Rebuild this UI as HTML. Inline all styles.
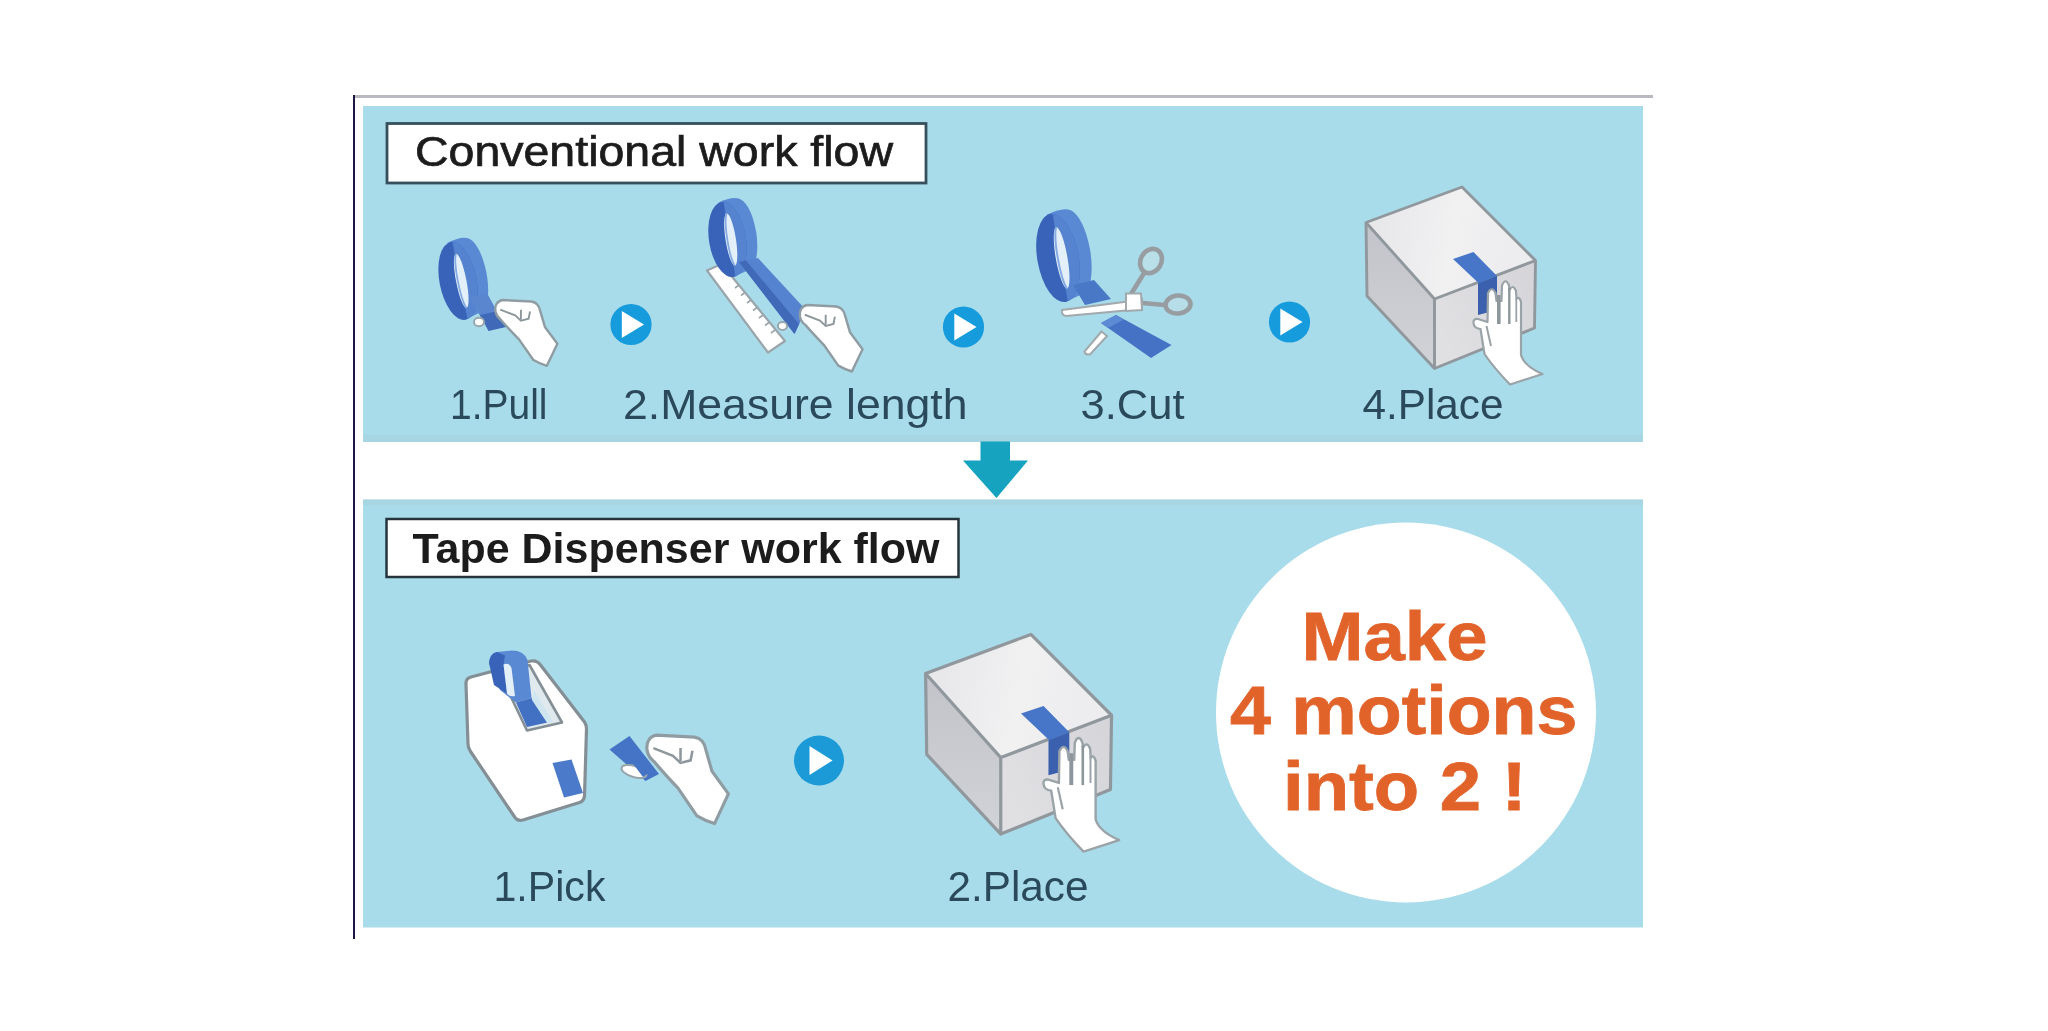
<!DOCTYPE html>
<html lang="en">
<head>
<meta charset="utf-8">
<title>Tape dispenser work flow</title>
<style>
  html, body { margin: 0; padding: 0; background: #ffffff; }
  body { width: 2048px; height: 1031px; overflow: hidden; position: relative;
         font-family: "Liberation Sans", sans-serif; }
  svg { position: absolute; left: 0; top: 0; display: block; }
  text { font-family: "Liberation Sans", sans-serif; }
  .lbl { fill: #2c4a5a; font-size: 42px; }
  .ttl { fill: #1c1c1c; font-size: 42px; }
  .org { fill: #e2642c; font-weight: bold; }
</style>
</head>
<body>
<svg width="2048" height="1031" viewBox="0 0 2048 1031">
  <defs>
    <filter id="soft" filterUnits="userSpaceOnUse" x="300" y="60" width="1420" height="920">
      <feGaussianBlur stdDeviation="0.55"/>
    </filter>

    <!-- tape roll: local coords, front-face ellipse centred at 0,0 -->
    <clipPath id="rightHalf"><rect x="2" y="-60" width="60" height="120"/></clipPath>
    <g id="roll">
      <path d="M-3 -39.5 C5 -42 14 -42.5 18 -40 C26 -35.5 29.500 -18 29.500 -3 C29.500 12 26 29 19 34 L0 39.5 Z" fill="#5a89d3"/>
      <ellipse cx="0" cy="0" rx="18.5" ry="39.5" fill="#3864b8"/>
      <ellipse cx="0" cy="0" rx="18.5" ry="39.5" fill="#5583cf" clip-path="url(#rightHalf)"/>
      <ellipse cx="3.200" cy="0.5" rx="5.200" ry="27.500" fill="#e3f0fa"/>
      <path d="M3 -27 C-1 -18 -1.500 16 3 28" fill="none" stroke="#86abe2" stroke-width="1.800"/>
    </g>
    <!-- gripping hand: local origin about top-left of fist -->
    <g id="grip">
      <path d="M0.5 11 C-0.5 5 2 0 8 -1 L38 0.5 C44 1.5 46 5 47 10 L52 27 L65 44.5 L54 67.5 Q46 65 40 61.5 L25 40 Q17 32 6 19.5 Q1.5 16 0.5 11 Z" fill="#ffffff" stroke="#8f9da3" stroke-width="2.5" stroke-linejoin="round"/>
      <path d="M5.5 9 L21 15 L27 20.5 L35 18.5 L36.5 11 M27 9 L27 19" fill="none" stroke="#8e989c" stroke-width="2"/>
    </g>

    <!-- box + tape + pressing hand, drawn in coordinates of the "4.Place" scene -->
    <g id="boxscene">
      <path d="M1366 222.500 L1434.500 299 L1434.500 368.500 L1367 296 Z" fill="url(#gLeft)"/>
      <path d="M1434.500 299 L1535.500 260.500 L1534.500 328 L1434.500 368.500 Z" fill="url(#gRight)"/>
      <path d="M1366 222.500 L1462 187 L1535.500 260.500 L1434.500 299 Z" fill="url(#gTop)"/>
      <path d="M1366 222.500 L1462 187 L1535.500 260.500 L1534.500 328 L1434.500 368.500 L1367 296 Z M1366 222.500 L1434.500 299 L1535.500 260.500 M1434.500 299 L1434.500 368.500" fill="none" stroke="#90989d" stroke-width="2.9" stroke-linejoin="round"/>
      <path d="M1453 259 L1473.500 252 L1497 276 L1479 283.500 Z" fill="#4676c8"/>
      <path d="M1478 283.500 L1497 276 L1497 310 L1478 315 Z" fill="#3a60ae"/>
      <!-- hand -->
      <path d="M1473.500 323 Q1473 318.500 1478 319 L1487.500 322 L1488 293 Q1491.700 285.500 1495.500 293 L1496.500 301 L1501.500 301 L1502 285.500 Q1505.500 277 1509 285.500 L1509.500 290 Q1513 283.500 1516 291 L1516.500 299 Q1519.500 296 1521 302 L1521 355 Q1524 366 1542.500 374 L1510 384.500 Q1494 368 1484.500 354 L1480.500 329 Q1474 328.500 1473.500 323 Z" fill="#ffffff" stroke="#9aa3a7" stroke-width="2.2" stroke-linejoin="round"/>
      <path d="M1498.800 295 L1498.800 324" stroke="#8d979b" stroke-width="3.600" fill="none"/>
      <path d="M1509.300 288 L1509.300 324" stroke="#8d979b" stroke-width="2.400" fill="none"/>
      <path d="M1516.300 298 L1516.300 322" stroke="#9aa3a7" stroke-width="1.800" fill="none"/>
      <path d="M1486.500 326 L1491 346" stroke="#9aa3a7" stroke-width="2" fill="none"/>
    </g>

    <linearGradient id="gTop" gradientUnits="userSpaceOnUse" x1="1380" y1="230" x2="1500" y2="250">
      <stop offset="0" stop-color="#e8e8eb"/><stop offset="0.6" stop-color="#f1f1f2"/><stop offset="1" stop-color="#ededef"/>
    </linearGradient>
    <linearGradient id="gLeft" gradientUnits="userSpaceOnUse" x1="1400" y1="240" x2="1400" y2="370">
      <stop offset="0" stop-color="#c4c5ca"/><stop offset="1" stop-color="#d2d3d7"/>
    </linearGradient>
    <linearGradient id="gRight" gradientUnits="userSpaceOnUse" x1="1440" y1="330" x2="1535" y2="290">
      <stop offset="0" stop-color="#e0e0e3"/><stop offset="1" stop-color="#d6d6da"/>
    </linearGradient>
  </defs>

  <!-- ===== outer frame ===== -->
  <g id="frame">
    <rect x="354" y="95" width="1299" height="3" fill="#b9babf"/>
    <rect x="353" y="95" width="2" height="844" fill="#1d1842"/>
  </g>

  <g id="art" filter="url(#soft)">
  <!-- ===== panels ===== -->
  <g id="panels">
    <rect x="363" y="106" width="1280" height="336" fill="#a9dcea"/>
    <rect x="363" y="499.5" width="1280" height="428" fill="#a9dcea"/>
    <rect x="363" y="435" width="1280" height="7" fill="#9fcfda" opacity="0.45"/>
    <rect x="363" y="499.5" width="1280" height="6" fill="#9fcfda" opacity="0.45"/>
  </g>

  <!-- ===== down arrow ===== -->
  <g id="arrow">
    <path d="M980.5 441.5 H1010 V460.5 H1028 L996.5 498 L963 460.5 H980.5 Z" fill="#12a3bf"/>
  </g>

  <!-- ===== title boxes ===== -->
  <g id="titles">
    <rect x="387" y="123.5" width="539" height="59.5" fill="#ffffff" stroke="#34505b" stroke-width="2.8"/>
    <text class="ttl" x="415" y="165.7" textLength="478" lengthAdjust="spacingAndGlyphs" stroke="#1c1c1c" stroke-width="0.7">Conventional work flow</text>
    <rect x="386.5" y="519" width="572" height="58" fill="#ffffff" stroke="#27343c" stroke-width="2.5"/>
    <text class="ttl" x="412.5" y="563" textLength="527" lengthAdjust="spacingAndGlyphs" font-weight="bold" fill="#111" style="font-size:43px">Tape Dispenser work flow</text>
  </g>

  <!-- ===== step labels ===== -->
  <g id="labels">
    <text class="lbl" x="450" y="419" textLength="97.5" lengthAdjust="spacingAndGlyphs">1.Pull</text>
    <text class="lbl" x="623" y="419" textLength="344.5" lengthAdjust="spacingAndGlyphs">2.Measure length</text>
    <text class="lbl" x="1080.5" y="419" textLength="104" lengthAdjust="spacingAndGlyphs">3.Cut</text>
    <text class="lbl" x="1362.5" y="419" textLength="141" lengthAdjust="spacingAndGlyphs">4.Place</text>
    <text class="lbl" x="493.5" y="900.5" textLength="112" lengthAdjust="spacingAndGlyphs">1.Pick</text>
    <text class="lbl" x="947.5" y="900.5" textLength="141" lengthAdjust="spacingAndGlyphs">2.Place</text>
  </g>

  <!-- ===== play buttons ===== -->
  <g id="plays">
    <g transform="translate(631 324.5)"><circle r="20.6" fill="#189bdc"/><path d="M-9.200 -13.400 L13 0 L-9.200 13.400 Z" fill="#fff"/></g>
    <g transform="translate(963.5 327)"><circle r="20.6" fill="#189bdc"/><path d="M-9.200 -13.400 L13 0 L-9.200 13.400 Z" fill="#fff"/></g>
    <g transform="translate(1289.5 322)"><circle r="20.6" fill="#189bdc"/><path d="M-9.200 -13.400 L13 0 L-9.200 13.400 Z" fill="#fff"/></g>
    <g transform="translate(819 760.5)"><circle r="25" fill="#1a9ad8"/><path d="M-9.5 -14.5 L13.5 0 L-9.5 14.5 Z" fill="#fff"/></g>
  </g>

  <!-- ===== big circle + slogan ===== -->
  <g id="slogan">
    <circle cx="1406" cy="712.5" r="190" fill="#ffffff"/>
    <text class="org" x="1301.5" y="660" font-size="69" textLength="186" stroke="#e2642c" stroke-width="0.8" lengthAdjust="spacingAndGlyphs">Make</text>
    <text class="org" x="1230" y="734" font-size="69" textLength="347.5" stroke="#e2642c" stroke-width="0.8" lengthAdjust="spacingAndGlyphs">4 motions</text>
    <text class="org" x="1283" y="809.5" font-size="69" textLength="243.5" stroke="#e2642c" stroke-width="0.8" lengthAdjust="spacingAndGlyphs">into 2 !</text>
  </g>


  <!-- ===== 1.Pull ===== -->
  <g id="pull">
    <use href="#roll" transform="translate(458 281) rotate(-11)"/>
    <path d="M469 297.5 L487.5 294 L505 326 L489 330.5 Z" fill="#5a86d0"/>
    <path d="M480 315 L498 311 L506 327 L488.5 331 Z" fill="#3f69b8"/>
    <ellipse cx="479" cy="322" rx="5" ry="4.2" fill="#fff" stroke="#98a6ab" stroke-width="2"/>
    <use href="#grip" transform="translate(495 301) scale(0.96)"/>
  </g>

  <!-- ===== 2.Measure length ===== -->
  <g id="measure">
    <path d="M707 270.5 L721.5 264 L785 341 L768 352.5 Z" fill="#ffffff" stroke="#9aa6ab" stroke-width="2.2" stroke-linejoin="round"/>
    <path d="M735 288 l4 -3 M741 295.5 l4 -3 M747 303 l4 -3 M753 310.5 l4 -3 M759 318 l4 -3 M765 325.5 l4 -3 M771 333 l4 -3" stroke="#9aa6ab" stroke-width="1.6" fill="none"/>
    <use href="#roll" transform="translate(727.5 239.5) rotate(-9) scale(1 0.96)"/>
    <path d="M739 262 L758 258 L806 310 L794.5 334 Z" fill="#5583cf"/>
    <path d="M739 262 L746 260.5 L799 324 L794.5 334 Z" fill="#3f69b8"/>
    <ellipse cx="782.5" cy="326" rx="4.6" ry="4" fill="#fff" stroke="#98a6ab" stroke-width="2"/>
    <use href="#grip" transform="translate(799.5 306) scale(0.97)"/>
  </g>

  <!-- ===== 3.Cut ===== -->
  <g id="cut">
    <use href="#roll" transform="translate(1058 258) rotate(-10) scale(1.12 1.13)"/>
    <path d="M1073 285 L1094 280 L1111 299 L1085 305 Z" fill="#4a78c6"/>
    <path d="M1101 323 L1116 315 L1171.5 345 L1151 358 Z" fill="#4472c4"/>
    <path d="M1101 323 L1116 315 L1124 319.5 L1108 328 Z" fill="#5c8ad4"/>
    <!-- scissors -->
    <g fill="none" stroke="#979da0" stroke-width="4.6" stroke-linecap="round">
      <ellipse cx="1151" cy="261" rx="10.3" ry="12.6" transform="rotate(30 1151 261)" fill="#b9dfe9"/>
      <path d="M1144.500 272.500 L1131 294"/>
      <ellipse cx="1178" cy="304.5" rx="12.500" ry="9" transform="rotate(-5 1178 304.5)" fill="#b7dde8"/>
      <path d="M1165 305 L1142 303"/>
    </g>
    <path d="M1062 310 L1124 302 L1142 299 L1142 309 L1066 316 Q1061 315 1062 310 Z" fill="#ffffff" stroke="#a2a9ac" stroke-width="2"/>
    <path d="M1126 293.500 L1141 293.500 L1142 310 L1126 311 Z" fill="#ffffff" stroke="#a2a9ac" stroke-width="2"/>
    <path d="M1101.5 331.500 L1107 336 L1090 354.500 Q1085 355 1084.5 351.500 Z" fill="#ffffff" stroke="#a2a9ac" stroke-width="2"/>
  </g>


  <!-- ===== 4.Place ===== -->
  <use href="#boxscene"/>

  <!-- ===== 2.Place (bottom) ===== -->
  <use href="#boxscene" transform="matrix(1.097 0 0 1.1 -572.9 428.7)"/>

  <!-- ===== 1.Pick ===== -->
  <g id="pick">
    <!-- dispenser body -->
    <path d="M466 684 Q465.500 678.500 471 677 L531 661 Q537 660 540.500 665 L584.500 722 Q586.500 725 586.500 729 L584.500 796 Q584 801 579.500 802.500 L523 820 Q518 821.500 515 817.500 L470.500 751.500 Q468 748 468 744 Z" fill="#ffffff" stroke="#848f95" stroke-width="3.200" stroke-linejoin="round"/>
    <path d="M501 676 L529.500 665 L562 722.500 L527 730.500 Z" fill="#dfe9ee" stroke="#848f95" stroke-width="2.600" stroke-linejoin="round"/>
    <!-- roll in the slot -->
    <path d="M489 663 Q490 653 497 652 L512 650.500 Q524 650.500 527.500 660 L531.500 698 L516 702.500 L500 690 Z" fill="#5a89d3"/>
    <path d="M489 663 Q490 653.500 497 652 L505 655.500 L503.500 665 L507 693.500 L494 685 Z" fill="#3864b8"/>
    <path d="M503.500 664.500 Q509 662 511.500 668 L515 696 Q509 697 507 693.500 Z" fill="#e3f0fa"/>
    <path d="M516 702.500 L531.500 698 L547.500 722.500 L527 727 Z" fill="#4270c2"/>
    <path d="M534 690 L540 700 L553 722 L547.500 723.500 L532 700 Z" fill="#cfe6f1"/>
    <!-- tape out of the front -->
    <path d="M552.500 763 L571.500 759.500 L583 793 L564 797.500 Z" fill="#4b7aca"/>
    <!-- picked piece + hand -->
    <path d="M609.500 749.500 L629.500 736 L659 774 L645.500 781 Z" fill="#4573c6"/>
    <ellipse cx="634" cy="771.500" rx="13" ry="5.500" transform="rotate(17 634 771.500)" fill="#ffffff" stroke="#98a6ab" stroke-width="2"/>
    <path d="M628 757 L640 751 L652 770.500 L643 777 Z" fill="#4573c6"/>
    <use href="#grip" transform="translate(646.500 736.500) scale(1.26 1.29)"/>
  </g>

  </g>
</svg>
</body>
</html>
